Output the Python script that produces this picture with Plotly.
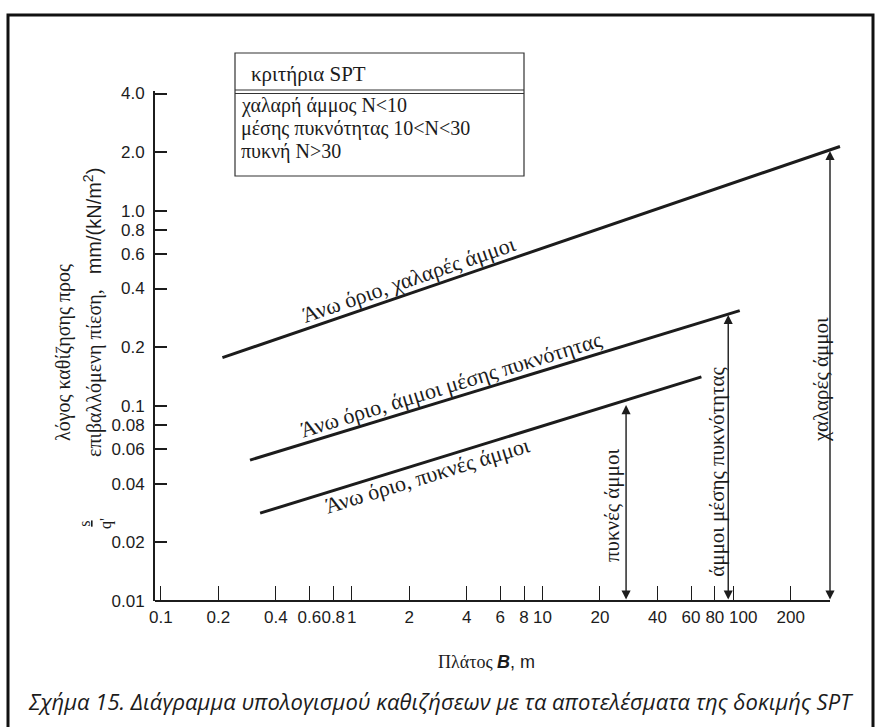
import numpy as np
import plotly.graph_objects as go

# ---------------- data ----------------
x_tick_vals = [0.1, 0.2, 0.4, 0.6, 0.8, 1, 2, 4, 6, 8, 10, 20, 40, 60, 80, 100, 200]
x_tick_text = ["0.1", "0.2", "0.4", "0.6", "0.8", "1", "2", "4", "6", "8", "10",
               "20", "40", "60", "80", "100", "200"]
y_tick_vals = [4.0, 2.0, 1.0, 0.8, 0.6, 0.4, 0.2, 0.1, 0.08, 0.06, 0.04, 0.02, 0.01]
y_tick_text = ["4.0", "2.0", "1.0", "0.8", "0.6", "0.4", "0.2", "0.1", "0.08",
               "0.06", "0.04", "0.02", "0.01"]

line_names = ["Άνω όριο, χαλαρές άμμοι",
              "Άνω όριο, άμμοι μέσης πυκνότητας",
              "Άνω όριο, πυκνές άμμοι"]
line_B = [[0.21, 362], [0.293, 108], [0.331, 68]]          # πλάτος B, m
line_sq = [[0.177, 2.14], [0.0528, 0.308], [0.0282, 0.141]]  # s/q', mm/(kN/m2)

arrow_names = ["πυκνές άμμοι", "άμμοι μέσης πυκνότητας", "χαλαρές άμμοι"]
arrow_B = [27.4, 94, 321]
arrow_top = [0.101, 0.293, 2.03]
arrow_bottom = 0.01

legend_title = "κριτήρια SPT"
legend_items = ["χαλαρή άμμος N<10", "μέσης πυκνότητας 10<N<30", "πυκνή N>30"]

caption = "Σχήμα 15. Διάγραμμα υπολογισμού καθιζήσεων με τα αποτελέσματα της δοκιμής SPT"

# ---------------- layout geometry ----------------
W, H = 880, 727
ML, MR, MT, MB = 155, 38, 91, 126
X_LO, X_HI = 0.0931, 371.0
Y_LO, Y_HI = 0.01, 4.12

SERIF = "Liberation Serif, Times New Roman, serif"
SANS = "Liberation Sans, Arial, sans-serif"
INK = "#1c1c1c"

PL, PR, PT, PB = ML, W - MR, MT, H - MB


def px_x(px):
    return (px - PL) / (PR - PL)


def px_y(py):
    return (PB - py) / (PB - PT)


def esc(s):
    return s.replace("<", "&lt;").replace(">", "&gt;")


# the printed "100" label sits a little to the right of its tick:
# it is drawn as a shifted annotation instead of a regular tick label
SHIFTED = "100"
x_tick_disp = [("" if t == SHIFTED else t) for t in x_tick_text]

fig = go.Figure()

for bx, sy in zip(line_B, line_sq):
    fig.add_trace(go.Scatter(x=bx, y=sy, mode="lines",
                             line=dict(color=INK, width=3),
                             showlegend=False, hoverinfo="skip"))

annotations = []

# shifted tick label
for v, t in zip(x_tick_vals, x_tick_text):
    if t == SHIFTED:
        annotations.append(dict(x=np.log10(v), y=0, xref="x", yref="paper",
                                text=t, showarrow=False, xanchor="center",
                                yanchor="top", xshift=10, yshift=-5,
                                font=dict(family=SANS, size=17, color=INK)))

# vertical double arrows
for b, top in zip(arrow_B, arrow_top):
    annotations.append(dict(
        x=np.log10(b), y=np.log10(top), ax=np.log10(b), ay=np.log10(arrow_bottom),
        xref="x", yref="y", axref="x", ayref="y", text="", showarrow=True,
        arrowside="end+start", arrowhead=2, arrowsize=1.3, arrowwidth=1.4,
        arrowcolor=INK, standoff=0, startstandoff=0))

# labels along the limit lines
line_label_pos = [(1.985, 0.4426, -19), (3.33, 0.129, -17), (2.48, 0.0438, -17)]
for name, (lx, ly, ang) in zip(line_names, line_label_pos):
    annotations.append(dict(x=np.log10(lx), y=np.log10(ly), xref="x", yref="y",
                            text=name, showarrow=False, textangle=ang,
                            font=dict(family=SERIF, size=22, color=INK),
                            xanchor="center", yanchor="middle"))

# labels next to the arrows
arrow_label_pos = [(23.1, 0.031), (82, 0.0459), (288, 0.136)]
for name, (lx, ly) in zip(arrow_names, arrow_label_pos):
    annotations.append(dict(x=np.log10(lx), y=np.log10(ly), xref="x", yref="y",
                            text=name, showarrow=False, textangle=-90,
                            font=dict(family=SERIF, size=21, color=INK),
                            xanchor="center", yanchor="middle"))

# legend box texts
annotations.append(dict(x=px_x(308), y=px_y(74), xref="paper", yref="paper",
                        text=esc(legend_title), showarrow=False,
                        font=dict(family=SERIF, size=21, color=INK),
                        xanchor="center", yanchor="middle"))
for i, item in enumerate(legend_items):
    annotations.append(dict(x=px_x(239), y=px_y(105.5 + 23 * i), xref="paper", yref="paper",
                            text=esc(item), showarrow=False,
                            font=dict(family=SERIF, size=20, color=INK),
                            xanchor="left", yanchor="middle"))

# y-axis title (two rotated lines + s/q')
annotations.append(dict(x=px_x(63), y=px_y(353), xref="paper", yref="paper",
                        text="λόγος καθίζησης προς", showarrow=False, textangle=-90,
                        font=dict(family=SERIF, size=20, color=INK),
                        xanchor="center", yanchor="middle"))
annotations.append(dict(x=px_x(93), y=px_y(313), xref="paper", yref="paper",
                        text="επιβαλλόμενη πίεση,&nbsp;&nbsp;&nbsp;"
                             "<span style='font-family:Liberation Sans'>mm/(kN/m<sup>2</sup>)</span>",
                        showarrow=False, textangle=-90,
                        font=dict(family=SERIF, size=20, color=INK),
                        xanchor="center", yanchor="middle"))
annotations.append(dict(x=px_x(95), y=px_y(524), xref="paper", yref="paper",
                        text="<u>s</u><br>q'", showarrow=False, textangle=-90,
                        font=dict(family=SERIF, size=16, color=INK),
                        xanchor="center", yanchor="middle"))

# x-axis title
annotations.append(dict(x=px_x(486), y=px_y(662), xref="paper", yref="paper",
                        text="Πλάτος <span style='font-family:Liberation Sans'><b><i>B</i></b>, m</span>",
                        showarrow=False,
                        font=dict(family=SERIF, size=18, color=INK),
                        xanchor="center", yanchor="middle"))

# caption
annotations.append(dict(x=px_x(440), y=px_y(701), xref="paper", yref="paper",
                        text="<i>" + caption + "</i>", showarrow=False,
                        font=dict(family="Open Sans, Noto Sans, sans-serif", size=22, color=INK),
                        xanchor="center", yanchor="middle"))

shapes = [
    # outer frame
    dict(type="rect", xref="paper", yref="paper", x0=px_x(8), x1=px_x(873),
         y0=px_y(745), y1=px_y(15), line=dict(color="#111", width=3)),
    # legend box
    dict(type="rect", xref="paper", yref="paper", x0=px_x(235), x1=px_x(524),
         y0=px_y(176), y1=px_y(53), line=dict(color="#333", width=1.2)),
    dict(type="line", xref="paper", yref="paper", x0=px_x(235), x1=px_x(524),
         y0=px_y(90), y1=px_y(90), line=dict(color="#333", width=1.2)),
    dict(type="line", xref="paper", yref="paper", x0=px_x(235), x1=px_x(524),
         y0=px_y(93.5), y1=px_y(93.5), line=dict(color="#333", width=1.2)),
    # bottom axis line up to the last arrow
    dict(type="line", xref="x", yref="paper", x0=X_LO, x1=arrow_B[-1],
         y0=0, y1=0, line=dict(color=INK, width=2)),
]

fig.update_layout(
    width=W, height=H,
    margin=dict(l=ML, r=MR, t=MT, b=MB, pad=0),
    paper_bgcolor="white", plot_bgcolor="white",
    showlegend=False,
    annotations=annotations,
    shapes=shapes,
    xaxis=dict(type="log", range=[np.log10(X_LO), np.log10(X_HI)],
               tickvals=x_tick_vals, ticktext=x_tick_disp, tickangle=0,
               ticks="inside", ticklen=15, tickwidth=1.3, tickcolor=INK,
               showline=False, showgrid=False, zeroline=False,
               tickfont=dict(family=SANS, size=17, color=INK),
               ticklabelstandoff=4),
    yaxis=dict(type="log", range=[np.log10(Y_LO), np.log10(Y_HI)],
               tickvals=y_tick_vals, ticktext=y_tick_text,
               ticks="inside", ticklen=12, tickwidth=1.5, tickcolor=INK,
               showline=True, linewidth=2, linecolor=INK,
               showgrid=False, zeroline=False,
               tickfont=dict(family=SANS, size=17, color=INK),
               ticklabelstandoff=5),
)

fig.write_html("out.html", config={"displayModeBar": False},
               post_script="document.body.style.margin='0';")
